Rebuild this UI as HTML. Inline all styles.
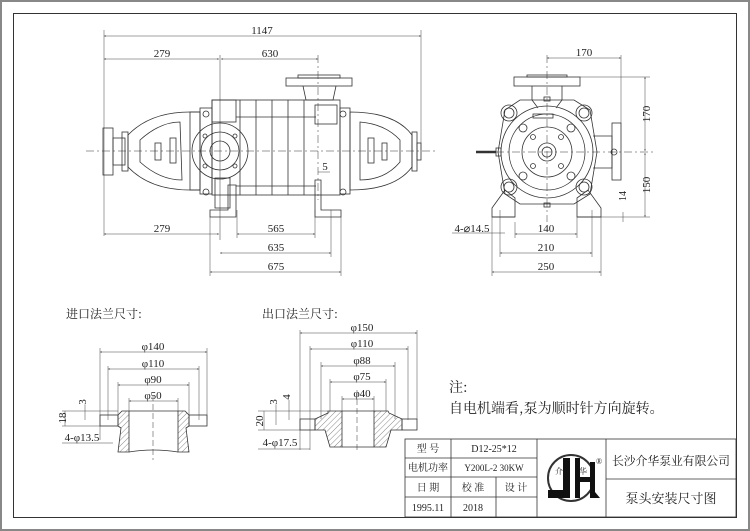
<!DOCTYPE html>
<html><head><meta charset="utf-8"><style>
html,body{margin:0;padding:0;background:#fff}
svg{display:block}
text{font-family:"Liberation Serif","Noto Serif CJK SC",serif;fill:#222}
.c{font-family:"Noto Serif CJK SC","WenQuanYi Zen Hei",serif}
</style></head><body>
<svg width="750" height="531" viewBox="0 0 750 531" xmlns="http://www.w3.org/2000/svg">
<defs>
<pattern id="h" width="4" height="4" patternUnits="userSpaceOnUse" patternTransform="rotate(45)"><line x1="0" y1="0" x2="0" y2="4" stroke="#555" stroke-width="0.7"/></pattern>
<marker id="a" viewBox="0 0 10 10" refX="10" refY="5" markerWidth="6" markerHeight="4" orient="auto-start-reverse"><path d="M0,2 L10,5 L0,8z" fill="#333"/></marker>
</defs>
<rect x="1" y="1" width="748" height="529" fill="none" stroke="#888" stroke-width="2"/>
<rect x="13.5" y="13.5" width="723" height="504" fill="none" stroke="#333" stroke-width="1"/>

<g stroke="#333" fill="none" stroke-width="0.8">
<line x1="86" y1="151" x2="436" y2="151" stroke-dasharray="8,3,2,3" stroke-width="0.5"/>
<line x1="220" y1="55" x2="220" y2="240" stroke-width="0.5"/>
<line x1="318" y1="55" x2="318" y2="200" stroke-dasharray="8,3,2,3" stroke-width="0.5"/>
<rect x="103" y="128" width="10" height="47"/>
<rect x="113" y="138" width="12" height="27"/>
<rect x="122" y="132" width="6" height="39"/>
<path d="M128,135 Q150,112 190,112 L200,112 L200,190 L190,190 Q150,190 128,167 Z"/>
<path d="M140,140 Q160,122 180,122 L182,180 Q160,180 140,162 Z"/>
<rect x="155" y="143" width="6" height="17"/><rect x="170" y="138" width="6" height="25"/>
<rect x="190" y="112" width="10" height="78"/>
<rect x="200" y="108" width="12" height="86"/>
<rect x="212" y="100" width="128" height="95"/>
<line x1="240" y1="100" x2="240" y2="195"/>
<line x1="256" y1="100" x2="256" y2="195"/>
<line x1="272" y1="100" x2="272" y2="195"/>
<line x1="288" y1="100" x2="288" y2="195"/>
<line x1="304" y1="100" x2="304" y2="195"/>
<line x1="236" y1="117" x2="316" y2="117"/>
<line x1="236" y1="186" x2="316" y2="186"/>
<rect x="212" y="100" width="24" height="22"/>
<rect x="315" y="105" width="22" height="19"/>
<rect x="215" y="178" width="15" height="30"/>
<circle cx="220" cy="151" r="28"/><circle cx="220" cy="151" r="19"/><circle cx="220" cy="151" r="10"/>
<circle cx="205" cy="136" r="2"/><circle cx="235" cy="136" r="2"/><circle cx="205" cy="166" r="2"/><circle cx="235" cy="166" r="2"/>
<path d="M303,86 L306,100 L333,100 L336,86"/>
<rect x="286" y="78" width="66" height="8"/>
<rect x="298" y="75" width="42" height="3"/>
<path d="M210,217 L210,210 L228,210 L228,185 L236,185 L236,217 Z"/>
<path d="M315,217 L315,180 L321,180 L321,210 L341,210 L341,217 Z"/>
<rect x="340" y="108" width="10" height="86"/>
<path d="M350,112 Q395,112 412,135 L412,167 Q395,190 350,190 Z"/>
<path d="M360,122 Q385,124 400,140 L400,162 Q385,180 360,180 Z"/>
<rect x="368" y="138" width="6" height="25"/><rect x="382" y="143" width="5" height="17"/>
<rect x="412" y="132" width="5" height="39"/>
<rect x="417" y="143" width="4" height="17"/>
<circle cx="206" cy="114" r="3"/><circle cx="343" cy="114" r="3"/><circle cx="206" cy="192" r="3"/><circle cx="343" cy="192" r="3"/>
</g>

<g stroke="#444" stroke-width="0.5" fill="none">
<line x1="104" y1="30" x2="104" y2="236"/><line x1="421" y1="30" x2="421" y2="150"/>
<line x1="104" y1="36" x2="421" y2="36" marker-start="url(#a)" marker-end="url(#a)"/>
<line x1="104" y1="59" x2="219" y2="59" marker-start="url(#a)" marker-end="url(#a)"/>
<line x1="221" y1="59" x2="318" y2="59" marker-start="url(#a)" marker-end="url(#a)"/>
<line x1="104" y1="234" x2="219" y2="234" marker-start="url(#a)" marker-end="url(#a)"/>
<line x1="237" y1="210" x2="237" y2="238"/><line x1="315" y1="210" x2="315" y2="238"/>
<line x1="331" y1="210" x2="331" y2="257"/><line x1="210" y1="217" x2="210" y2="276"/><line x1="341" y1="217" x2="341" y2="276"/>
<line x1="237" y1="234" x2="315" y2="234" marker-start="url(#a)" marker-end="url(#a)"/>
<line x1="220" y1="253" x2="331" y2="253" marker-start="url(#a)" marker-end="url(#a)"/>
<line x1="210" y1="272" x2="341" y2="272" marker-start="url(#a)" marker-end="url(#a)"/>
<line x1="318" y1="172" x2="330" y2="172"/>
</g>
<g font-size="11" text-anchor="middle">
<text x="262" y="34">1147</text><text x="162" y="57">279</text><text x="270" y="57">630</text>
<text x="162" y="232">279</text><text x="276" y="232">565</text><text x="276" y="251">635</text><text x="276" y="270">675</text>
<text x="325" y="170">5</text>
</g>

<g stroke="#333" fill="none" stroke-width="0.8">
<line x1="547" y1="55" x2="547" y2="222" stroke-width="0.5" stroke-dasharray="8,3,2,3"/>
<line x1="480" y1="152" x2="655" y2="152" stroke-width="0.5" stroke-dasharray="8,3,2,3"/>
<rect x="514" y="77" width="66" height="9"/><rect x="527" y="75" width="40" height="2"/>
<path d="M532,86 L532,100 L538,108 M562,86 L562,100 L556,108"/>
<path d="M492,217 L492,208 L505,190 L515,198 L515,217 Z"/>
<path d="M601,217 L601,208 L588,190 L577,198 L577,217 Z"/>
<line x1="492" y1="217" x2="515" y2="217"/><line x1="577" y1="217" x2="601" y2="217"/>
<path d="M505,110 L520,100 L574,100 L590,110 L597,152 L590,194 L574,204 L520,204 L505,194 L498,152 Z"/>
<circle cx="547" cy="152" r="46"/><circle cx="547" cy="152" r="38"/><circle cx="547" cy="152" r="25"/>
<circle cx="547" cy="152" r="9"/><circle cx="547" cy="152" r="5"/>
<circle cx="509" cy="113" r="8"/><circle cx="509" cy="113" r="5"/>
<circle cx="584" cy="113" r="8"/><circle cx="584" cy="113" r="5"/>
<circle cx="509" cy="187" r="8"/><circle cx="509" cy="187" r="5"/>
<circle cx="584" cy="187" r="8"/><circle cx="584" cy="187" r="5"/>
<circle cx="523" cy="128" r="4"/><circle cx="571" cy="128" r="4"/><circle cx="523" cy="176" r="4"/><circle cx="571" cy="176" r="4"/>
<circle cx="533" cy="137" r="2.5"/><circle cx="561" cy="137" r="2.5"/><circle cx="533" cy="166" r="2.5"/><circle cx="561" cy="166" r="2.5"/>
<rect x="533" y="114" width="20" height="4"/>
<path d="M593,136 L612,136 L612,168 L593,168"/>
<rect x="612" y="123" width="9" height="57"/><circle cx="614" cy="152" r="3"/>
<rect x="496" y="148" width="5" height="8"/><line x1="476" y1="152" x2="496" y2="152" stroke-width="2.5"/>
<rect x="544" y="97" width="6" height="4"/><rect x="544" y="203" width="6" height="4"/>
</g>
<g stroke="#444" stroke-width="0.5" fill="none">
<line x1="621" y1="55" x2="621" y2="123"/>
<line x1="547" y1="58" x2="621" y2="58" marker-start="url(#a)" marker-end="url(#a)"/>
<line x1="580" y1="77" x2="650" y2="77"/><line x1="601" y1="217" x2="650" y2="217"/>
<line x1="645" y1="77" x2="645" y2="151" marker-start="url(#a)" marker-end="url(#a)"/>
<line x1="645" y1="153" x2="645" y2="217" marker-start="url(#a)" marker-end="url(#a)"/>
<line x1="623" y1="212" x2="623" y2="222"/>
<line x1="515" y1="222" x2="515" y2="238"/><line x1="577" y1="217" x2="577" y2="238"/>
<line x1="500" y1="210" x2="500" y2="257"/><line x1="592" y1="210" x2="592" y2="257"/>
<line x1="492" y1="217" x2="492" y2="276"/><line x1="601" y1="217" x2="601" y2="276"/>
<line x1="515" y1="234" x2="577" y2="234" marker-start="url(#a)" marker-end="url(#a)"/>
<line x1="500" y1="253" x2="592" y2="253" marker-start="url(#a)" marker-end="url(#a)"/>
<line x1="492" y1="272" x2="601" y2="272" marker-start="url(#a)" marker-end="url(#a)"/>
<line x1="452" y1="233" x2="505" y2="233"/>
</g>
<g font-size="11" text-anchor="middle">
<text x="584" y="56">170</text><text x="546" y="232">140</text><text x="546" y="251">210</text><text x="546" y="270">250</text>
<text x="472" y="232">4-⌀14.5</text>
<text transform="translate(650,114) rotate(-90)">170</text>
<text transform="translate(650,185) rotate(-90)">150</text>
<text transform="translate(626,196) rotate(-90)" font-size="10">14</text>
</g>

<text x="66" y="318" font-size="12" class="c">进口法兰尺寸:</text>
<g stroke="#333" fill="none" stroke-width="0.8">
<line x1="153" y1="395" x2="153" y2="460" stroke-width="0.5" stroke-dasharray="6,3"/>
<rect x="100" y="415" width="18" height="11"/><rect x="189" y="415" width="18" height="11"/>
<path d="M118,415 L122,411 L129,411 L129,452 L118,452 L121,428 L118,426 Z" fill="url(#h)"/>
<path d="M189,415 L185,411 L178,411 L178,452 L189,452 L186,428 L189,426 Z" fill="url(#h)"/>
<line x1="129" y1="411" x2="178" y2="411"/>
<path d="M129,452 Q153,448 178,452"/>
</g>
<g stroke="#444" stroke-width="0.5" fill="none">
<line x1="100" y1="348" x2="100" y2="440"/><line x1="207" y1="348" x2="207" y2="420"/>
<line x1="108" y1="366" x2="108" y2="420"/><line x1="199" y1="366" x2="199" y2="420"/>
<line x1="118" y1="382" x2="118" y2="415"/><line x1="189" y1="382" x2="189" y2="415"/>
<line x1="129" y1="398" x2="129" y2="411"/><line x1="178" y1="398" x2="178" y2="411"/>
<line x1="100" y1="352" x2="207" y2="352" marker-start="url(#a)" marker-end="url(#a)"/>
<line x1="108" y1="369" x2="199" y2="369" marker-start="url(#a)" marker-end="url(#a)"/>
<line x1="118" y1="385" x2="189" y2="385" marker-start="url(#a)" marker-end="url(#a)"/>
<line x1="129" y1="401" x2="178" y2="401" marker-start="url(#a)" marker-end="url(#a)"/>
<line x1="62" y1="411" x2="118" y2="411"/><line x1="62" y1="426" x2="100" y2="426"/>
<line x1="65" y1="411" x2="65" y2="426"/><line x1="85" y1="405" x2="85" y2="420"/>
<line x1="62" y1="443" x2="113" y2="443"/>
</g>
<g font-size="11" text-anchor="middle">
<text x="153" y="350">φ140</text><text x="153" y="367">φ110</text><text x="153" y="383">φ90</text><text x="153" y="399">φ50</text>
<text transform="translate(66,418) rotate(-90)">18</text>
<text transform="translate(86,402) rotate(-90)">3</text>
<text x="82" y="441">4-φ13.5</text>
</g>

<text x="262" y="318" font-size="12" class="c">出口法兰尺寸:</text>
<g stroke="#333" fill="none" stroke-width="0.8">
<line x1="357" y1="390" x2="357" y2="450" stroke-width="0.5" stroke-dasharray="6,3"/>
<rect x="300" y="419" width="15" height="11"/><rect x="402" y="419" width="15" height="11"/>
<path d="M315,419 L328,413 L328,411 L342,411 L342,447 L330,447 L325,430 L315,430 Z" fill="url(#h)"/>
<path d="M402,419 L389,413 L388,411 L374,411 L374,447 L386,447 L391,430 L402,430 Z" fill="url(#h)"/>
<line x1="342" y1="411" x2="374" y2="411"/><line x1="342" y1="447" x2="374" y2="447"/>
</g>
<g stroke="#444" stroke-width="0.5" fill="none">
<line x1="300" y1="330" x2="300" y2="450"/><line x1="417" y1="330" x2="417" y2="420"/>
<line x1="310" y1="346" x2="310" y2="450"/><line x1="408" y1="346" x2="408" y2="420"/>
<line x1="321" y1="362" x2="321" y2="419"/><line x1="395" y1="362" x2="395" y2="419"/>
<line x1="330" y1="379" x2="330" y2="411"/><line x1="386" y1="379" x2="386" y2="411"/>
<line x1="342" y1="396" x2="342" y2="411"/><line x1="374" y1="396" x2="374" y2="411"/>
<line x1="300" y1="333" x2="417" y2="333" marker-start="url(#a)" marker-end="url(#a)"/>
<line x1="310" y1="349" x2="408" y2="349" marker-start="url(#a)" marker-end="url(#a)"/>
<line x1="321" y1="366" x2="395" y2="366" marker-start="url(#a)" marker-end="url(#a)"/>
<line x1="330" y1="382" x2="386" y2="382" marker-start="url(#a)" marker-end="url(#a)"/>
<line x1="342" y1="399" x2="374" y2="399" marker-start="url(#a)" marker-end="url(#a)"/>
<line x1="258" y1="411" x2="328" y2="411"/><line x1="258" y1="430" x2="300" y2="430"/>
<line x1="264" y1="411" x2="264" y2="430"/><line x1="276" y1="405" x2="276" y2="425"/><line x1="289" y1="400" x2="289" y2="420"/>
<line x1="258" y1="449" x2="310" y2="449"/>
</g>
<g font-size="11" text-anchor="middle">
<text x="362" y="331">φ150</text><text x="362" y="347">φ110</text><text x="362" y="364">φ88</text><text x="362" y="380">φ75</text><text x="362" y="397">φ40</text>
<text transform="translate(263,421) rotate(-90)">20</text>
<text transform="translate(277,402) rotate(-90)">3</text>
<text transform="translate(290,397) rotate(-90)">4</text>
<text x="280" y="446">4-φ17.5</text>
</g>

<text x="449" y="392" font-size="14" class="c">注:</text>
<text x="449" y="413" font-size="14" class="c">自电机端看,泵为顺时针方向旋转。</text>

<g stroke="#333" fill="none" stroke-width="0.8">
<rect x="405" y="439" width="331" height="78"/>
<line x1="405" y1="458" x2="537" y2="458"/><line x1="405" y1="477" x2="537" y2="477"/><line x1="405" y1="497" x2="537" y2="497"/>
<line x1="451" y1="439" x2="451" y2="517"/><line x1="496" y1="477" x2="496" y2="517"/>
<line x1="537" y1="439" x2="537" y2="517"/><line x1="606" y1="439" x2="606" y2="517"/>
<line x1="606" y1="479" x2="736" y2="479"/>
<circle cx="571" cy="478" r="23" stroke-width="2"/>
</g>
<g fill="#111">
<rect x="563" y="458" width="7" height="40"/>
<path d="M548,490 L563,490 L563,498 L548,498 Z"/>
<rect x="575" y="458" width="5" height="40"/><rect x="590" y="462" width="5" height="36"/>
<rect x="575" y="477" width="20" height="5"/>
<path d="M595,492 L600,498 L595,498Z"/>
</g>
<g font-size="10" text-anchor="middle" class="c">
<text x="428" y="452">型 号</text><text x="494" y="452" font-family="Liberation Serif">D12-25*12</text>
<text x="428" y="471">电机功率</text><text x="494" y="471" font-family="Liberation Serif" font-size="9">Y200L-2 30KW</text>
<text x="428" y="491">日 期</text><text x="473" y="491">校 准</text><text x="516" y="491">设 计</text>
<text x="428" y="511" font-family="Liberation Serif">1995.11</text><text x="473" y="511" font-family="Liberation Serif">2018</text>
<text x="559" y="474" font-size="8">介</text><text x="583" y="474" font-size="8">华</text>
<text x="599" y="464" font-size="8">®</text>
<text x="671" y="465" font-size="12" textLength="118" lengthAdjust="spacingAndGlyphs">长沙介华泵业有限公司</text>
<text x="671" y="503" font-size="13">泵头安装尺寸图</text>
</g>
</svg>
</body></html>
